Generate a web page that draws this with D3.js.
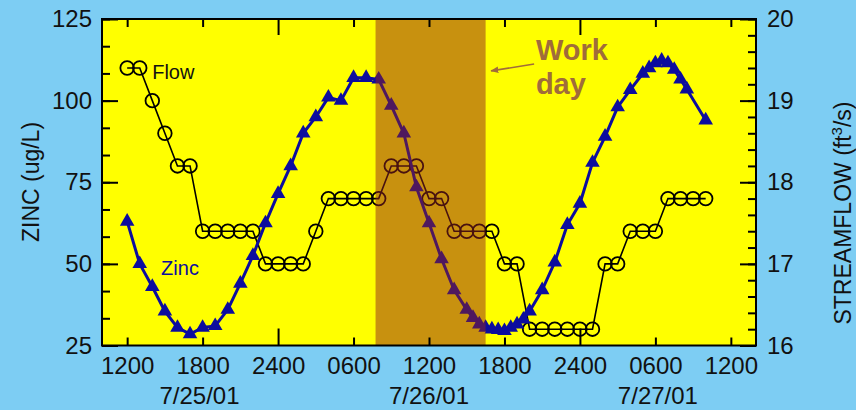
<!DOCTYPE html>
<html>
<head>
<meta charset="utf-8">
<script src="https://cdn.jsdelivr.net/npm/d3@7"></script>
<style>
  body { margin: 0; background: #7dcdf3; }
  svg { display: block; font-family: "Liberation Sans", Arial, Helvetica, sans-serif; }
</style>
</head>
<body>
<svg id="chart" width="856" height="410"></svg>
<script>
// all times are hours after 12:00 on 7/25/01
const flowHours = [0,1,2,3,4,5,6,7,8,9,10,11,12,13,14,15,16,17,18,19,20,21,22,23,
                   24,25,26,27,28,29,30,31,32,33,34,35,36,37,38,39,40,41,42,43,44,45,46];
const flowValues = [19.4,19.4,19.0,18.6,18.2,18.2,17.4,17.4,17.4,17.4,17.4,17.0,17.0,17.0,17.0,17.4,
                    17.8,17.8,17.8,17.8,17.8,18.2,18.2,18.2,17.8,17.8,17.4,17.4,17.4,17.4,17.0,17.0,
                    16.2,16.2,16.2,16.2,16.2,16.2,17.0,17.0,17.4,17.4,17.4,17.8,17.8,17.8,17.8];

const zincHours = [0,1,2,3,4,5,6,7,8,9,10,11,12,13,14,15,16,17,18,19,20,21,22,23,24,25,26,
                   27,27.5,28,28.5,29,29.5,30,30.5,31,31.5,32,33,34,35,36,37,38,39,40,41,
                   41.5,42,42.5,43,43.5,44,44.5,46];
const zincValues = [63,50,43,35.5,30.5,28.5,30.5,31,36,44,52.5,62.5,71.5,80,90,95,101,100,107,107,106.5,
                    98.5,90,73.5,62.5,51.5,42,36,33.5,31.5,30.5,30,29.8,29.5,30.5,31.5,33,35.5,42,50.5,
                    62,68.5,81,89,98,103.3,108.3,110,111.5,112.3,111.5,109.5,106.5,103.5,94];

// work day band
const workStart = 19.75, workEnd = 28.5;

// axis ticks
const tickHours  = [0,6,12,18,24,30,36,42,48];
const tickLabels = ["1200","1800","2400","0600","1200","1800","2400","0600","1200"];
const dateHours  = [5.75, 24, 42.2];
const dateLabels = ["7/25/01","7/26/01","7/27/01"];
const zincTicks  = [25,50,75,100,125];
const flowTicks  = [16,17,18,19,20];

const zincColor = "#0c0c9e";
const noteColor = "#a06c3a";

let chart = d3.select("#chart");
let pLeft = 102, pRight = 756, pTop = 19, pBottom = 345.5;

// x position scale
let x = d3.scaleLinear().domain([-2, 50]).range([pLeft, pRight]);
// y scales, zinc left and flow right
let yZinc = d3.scaleLinear().domain([25, 125]).range([pBottom, pTop]);
let yFlow = d3.scaleLinear().domain([16, 20]).range([pBottom, pTop]);

// plot area
chart.append("rect")
    .attr("x", pLeft).attr("y", pTop)
    .attr("width", pRight - pLeft).attr("height", pBottom - pTop)
    .attr("fill", "#ffff00");

// FLOW line
chart.append("path")
    .datum(flowHours)
    .attr("fill", "none")
    .attr("stroke", "#000")
    .attr("stroke-width", 1.6)
    .attr("d", d3.line()
        .x(d => x(d))
        .y((d, i) => yFlow(flowValues[i])));

chart.selectAll(".flowpt")
    .data(flowHours)
    .enter().append("circle")
    .attr("class", "flowpt")
    .attr("cx", d => x(d))
    .attr("cy", (d, i) => yFlow(flowValues[i]))
    .attr("r", 6.8)
    .attr("fill", "none")
    .attr("stroke", "#000")
    .attr("stroke-width", 1.8);

// ZINC line
chart.append("path")
    .datum(zincHours)
    .attr("fill", "none")
    .attr("stroke", zincColor)
    .attr("stroke-width", 3)
    .attr("stroke-linejoin", "round")
    .attr("d", d3.line()
        .x(d => x(d))
        .y((d, i) => yZinc(zincValues[i])));

chart.selectAll(".zincpt")
    .data(zincHours)
    .enter().append("path")
    .attr("class", "zincpt")
    .attr("d", d3.symbol(d3.symbolTriangle, 92))
    .attr("transform", (d, i) => "translate(" + x(d) + "," + yZinc(zincValues[i]) + ")")
    .attr("fill", zincColor);

// work day band, laid over the lines
chart.append("rect")
    .attr("x", x(workStart)).attr("y", pTop)
    .attr("width", x(workEnd) - x(workStart)).attr("height", pBottom - pTop)
    .attr("fill", "rgb(145,35,30)")
    .attr("opacity", 0.5);

// frame
chart.append("rect")
    .attr("x", pLeft).attr("y", pTop)
    .attr("width", pRight - pLeft).attr("height", pBottom - pTop)
    .attr("fill", "none")
    .attr("stroke", "#000")
    .attr("stroke-width", 2);

function styleAxis(g) {
    g.select(".domain").remove();
    g.attr("font-family", null).attr("font-size", 24);
    g.selectAll(".tick line").attr("stroke-width", 2);
    g.selectAll(".tick text").attr("fill", "#111");
}

// bottom axis
let gB = chart.append("g")
    .attr("transform", "translate(0," + pBottom + ")")
    .call(d3.axisBottom(x).tickValues(tickHours).tickSize(-8).tickPadding(11)
        .tickFormat((d, i) => tickLabels[i]))
    .call(styleAxis);
gB.selectAll(".tick line").attr("y2", d => d % 24 === 12 ? -17 : -8);

// top axis
let gT = chart.append("g")
    .attr("transform", "translate(0," + pTop + ")")
    .call(d3.axisTop(x).tickValues(tickHours).tickSize(-8).tickFormat(""))
    .call(styleAxis);
gT.selectAll(".tick line").attr("y2", d => d % 24 === 12 ? 16 : 8);

// left axis, major and minor
chart.append("g")
    .attr("transform", "translate(" + pLeft + ",0)")
    .call(d3.axisLeft(yZinc).tickValues(d3.range(25, 125.1, 25 / 3)).tickSize(-8).tickFormat(""))
    .call(styleAxis);
chart.append("g")
    .attr("transform", "translate(" + pLeft + ",0)")
    .call(d3.axisLeft(yZinc).tickValues(zincTicks).tickSize(-16).tickPadding(10))
    .call(styleAxis);

// right axis, major and minor
chart.append("g")
    .attr("transform", "translate(" + pRight + ",0)")
    .call(d3.axisRight(yFlow).tickValues(d3.range(16, 20.01, 0.2)).tickSize(-8).tickFormat(""))
    .call(styleAxis);
chart.append("g")
    .attr("transform", "translate(" + pRight + ",0)")
    .call(d3.axisRight(yFlow).tickValues(flowTicks).tickSize(-16).tickPadding(11)
        .tickFormat(d3.format("d")))
    .call(styleAxis);

// date labels
chart.selectAll(".date")
    .data(dateLabels)
    .enter().append("text")
    .attr("class", "date")
    .attr("x", (d, i) => x(dateHours[i]))
    .attr("y", 404)
    .attr("text-anchor", "middle")
    .attr("font-size", 24)
    .attr("fill", "#111")
    .text(d => d);

// axis titles
chart.append("text")
    .attr("transform", "translate(39,182) rotate(-90)")
    .attr("text-anchor", "middle")
    .attr("font-size", 23)
    .attr("fill", "#111")
    .text("ZINC (ug/L)");

let rt = chart.append("text")
    .attr("transform", "translate(851,213) rotate(-90)")
    .attr("text-anchor", "middle")
    .attr("font-size", 23)
    .attr("fill", "#111");
rt.append("tspan").text("STREAMFLOW (ft");
rt.append("tspan").attr("font-size", 15).attr("dy", -9).text("3");
rt.append("tspan").attr("dy", 9).text("/s)");

// series labels
chart.append("text")
    .attr("x", x(1.99)).attr("y", yFlow(19.265))
    .attr("font-size", 20)
    .attr("fill", "#111")
    .text("Flow");
chart.append("text")
    .attr("x", x(2.7)).attr("y", yZinc(46.6))
    .attr("font-size", 20)
    .attr("fill", zincColor)
    .text("Zinc");

// work day note
chart.append("text")
    .attr("x", x(32.5)).attr("y", yZinc(112.4))
    .attr("font-size", 29).attr("font-weight", "bold")
    .attr("fill", noteColor)
    .text("Work");
chart.append("text")
    .attr("x", x(32.5)).attr("y", yZinc(102))
    .attr("font-size", 29).attr("font-weight", "bold")
    .attr("fill", noteColor)
    .text("day");

chart.append("defs").append("marker")
    .attr("id", "arrow")
    .attr("viewBox", "0 0 10 10")
    .attr("refX", 9).attr("refY", 5)
    .attr("markerWidth", 5).attr("markerHeight", 5)
    .attr("orient", "auto")
    .append("path")
    .attr("d", "M0,1 L10,5 L0,9 Z")
    .attr("fill", noteColor);

chart.append("line")
    .attr("x1", x(32.36)).attr("y1", yZinc(111.2))
    .attr("x2", x(28.94)).attr("y2", yZinc(109.1))
    .attr("stroke", noteColor)
    .attr("stroke-width", 1.6)
    .attr("marker-end", "url(#arrow)");
</script>
</body>
</html>
